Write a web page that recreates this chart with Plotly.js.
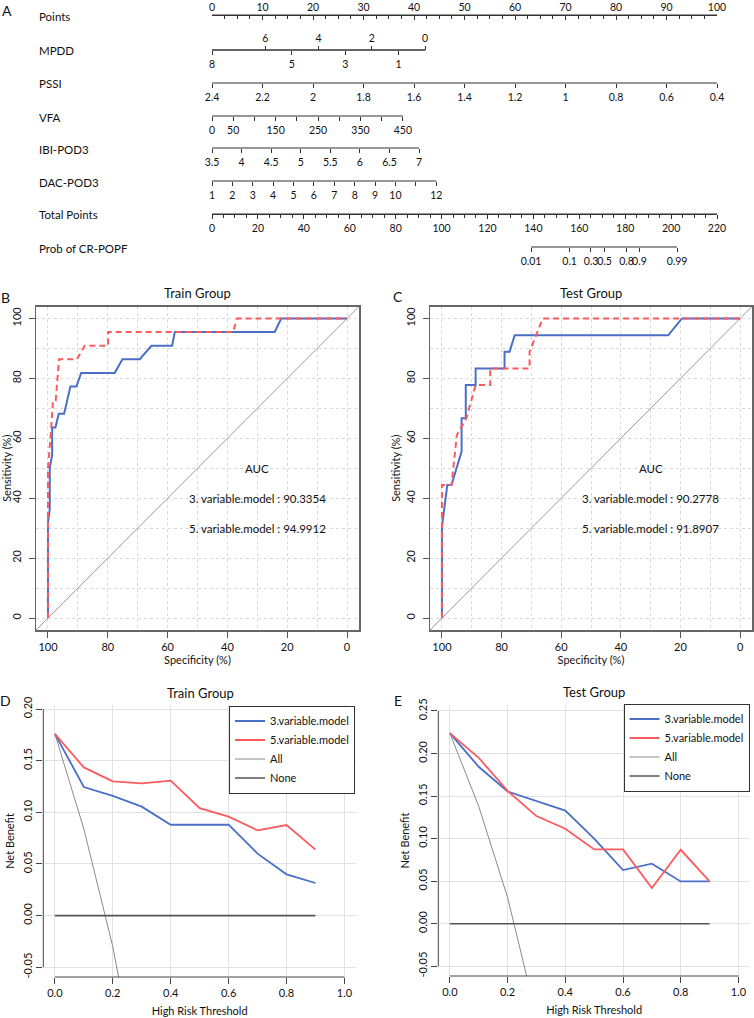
<!DOCTYPE html>
<html>
<head>
<meta charset="utf-8">
<script src="https://cdn.plot.ly/plotly-3.0.1.min.js"></script>
<style>html,body{margin:0;padding:0;background:#fff;}#chart{width:754px;height:1018px;}</style>
</head>
<body>
<div id="chart"></div>
<script>
// ---------------- DATA ----------------
// Nomogram (panel A)
const pointsTicks = [0,10,20,30,40,50,60,70,80,90,100];
const mpddTopTicks = [6,4,2,0];
const mpddBottomTicks = [8,5,3,1];
const mpddEnds = [8,0];
const mpddPoints = [0,42.2];
const pssiTicks = [2.4,2.2,2,1.8,1.6,1.4,1.2,1,0.8,0.6,0.4];
const pssiLabels = ['2.4','2.2','2','1.8','1.6','1.4','1.2','1','0.8','0.6','0.4'];
const pssiPoints = [0,100];
const vfaTicks = [0,50,100,150,200,250,300,350,400,450];
const vfaLabels = ['0','50','','150','','250','','350','','450'];
const vfaPoints = [0,37.8];
const ibiTicks = [3.5,4,4.5,5,5.5,6,6.5,7];
const ibiLabels = ['3.5','4','4.5','5','5.5','6','6.5','7'];
const ibiPoints = [0,41.0];
const dacTicks = [1,2,3,4,5,6,7,8,9,10,11,12];
const dacLabels = ['1','2','3','4','5','6','7','8','9','10','','12'];
const dacPoints = [0,44.4];
const totalTicks = [0,20,40,60,80,100,120,140,160,180,200,220];
const probLabels = ['0.01','0.1','0.3','0.5','0.8','0.9','0.99'];
const probTotalPoints = [139,155.8,165.1,171,180.6,186.2,202.6];
const rowNames = ['Points','MPDD','PSSI','VFA','IBI-POD3','DAC-POD3','Total Points','Prob of CR-POPF'];

// ROC (panels B, C)
const trainSpec3 = [100,100,99.4,99.4,98.6,98.6,97.5,96.4,94.6,92.5,90.5,88.9,77.7,75.1,69.3,65.4,58.5,57.6,24.2,22.0,0];
const trainSens3 = [0,31.8,36.4,50,54.5,63.6,63.6,68.2,68.2,77.3,77.3,81.8,81.8,86.4,86.4,90.9,90.9,95.5,95.5,100,100];
const trainSpec5 = [100,100,98.9,98.3,97.4,96.3,90.3,87.7,79.9,79.9,38.1,36.8,0];
const trainSens5 = [0,50,63.6,72.7,72.7,86.4,86.4,90.9,90.9,95.5,95.5,100,100];
const testSpec3 = [100,100,98.2,96.8,93.4,93.4,92.0,92.0,88.7,88.7,79.0,79.0,77.3,75.6,24.1,19.5,0];
const testSens3 = [0,30.4,44.4,44.4,55.6,66.7,66.7,77.8,77.8,83.3,83.3,88.9,88.9,94.4,94.4,100,100];
const testSpec5 = [100,100,96.8,95.0,91.8,88.7,83.8,83.8,70.6,70.6,66.2,0];
const testSens5 = [0,44.4,44.4,61.1,66.7,77.8,77.8,83.3,83.3,88.9,100,100];
const aucTrain = ['90.3354','94.9912'];
const aucTest = ['90.2778','91.8907'];
const modelNames = ['3.variable.model','5.variable.model','All','None'];

// DCA (panels D, E)
const thresholds = [0,0.1,0.2,0.3,0.4,0.5,0.6,0.7,0.8,0.9];
const trainNB3 = [0.176,0.1245,0.116,0.1055,0.088,0.088,0.088,0.060,0.040,0.0316];
const trainNB5 = [0.176,0.1435,0.130,0.128,0.1306,0.104,0.0958,0.0826,0.0877,0.0639];
const trainAllX = [0,0.1,0.2,0.3];
const trainAllNB = [0.176,0.084,-0.030,-0.177];
const testNB3 = [0.224,0.1844,0.1554,0.144,0.133,0.100,0.063,0.0705,0.0497,0.0497];
const testNB5 = [0.224,0.195,0.156,0.1265,0.1116,0.0873,0.0873,0.0419,0.0869,0.0497];
const testAllX = [0,0.1,0.2,0.3];
const testAllNB = [0.224,0.138,0.031,-0.109];
const noneNB = [0,0,0,0,0,0,0,0,0,0];
const dcaXTicks = [0,0.2,0.4,0.6,0.8,1.0];
const dcaXLabels = ['0.0','0.2','0.4','0.6','0.8','1.0'];
const trainYTicks = [-0.05,0,0.05,0.10,0.15,0.20];
const trainYLabels = ['-0.05','0.00','0.05','0.10','0.15','0.20'];
const testYTicks = [-0.05,0,0.05,0.10,0.15,0.20,0.25];
const testYLabels = ['-0.05','0.00','0.05','0.10','0.15','0.20','0.25'];

// ---------------- LAYOUT HELPERS ----------------
const W = 754, H = 1018;
const px = x => x / W;
const py = y => 1 - y / H;
const BLUE = '#4a6fc6', RED = '#fb5b5e';
const FONT = 'Lato, "Noto Sans", sans-serif';
const INK = '#111';

const rowY = [15, 50, 83, 116, 148, 181, 214, 247];
const nomDomain = [px(212), px(717)];

function rangeFor(ends, pts, pMax) {
  const s = (pts[1] - pts[0]) / (ends[1] - ends[0]);
  const v = p => ends[0] + (p - pts[0]) / s;
  return [v(0), v(pMax)];
}
function nomAxis(o) {
  return Object.assign({
    overlaying: 'x', anchor: 'free', showgrid: false, zeroline: false, showline: false,
    ticks: 'outside', ticklen: 4, tickwidth: 1, tickcolor: '#333', tickangle: 0,
    tickfont: {size: 10.5, color: INK, family: FONT}, tickmode: 'array', side: 'bottom'
  }, o);
}

const traces = [];
const lineStyle = {color: '#333', width: 1};
function rowLine(ax, xs, y) {
  traces.push({type: 'scatter', mode: 'lines', x: [xs[0], xs[xs.length - 1]], y: [y, y],
    xaxis: ax, yaxis: 'y', line: lineStyle, showlegend: false, hoverinfo: 'skip'});
}
rowLine('x2', mpddEnds, rowY[1]);
rowLine('x4', pssiTicks, rowY[2]);
rowLine('x5', vfaTicks, rowY[3]);
rowLine('x6', ibiTicks, rowY[4]);
rowLine('x7', dacTicks, rowY[5]);
rowLine('x9', probTotalPoints, rowY[7]);
rowLine('x3', mpddEnds, rowY[1]);
rowLine('x8', totalTicks, rowY[6]);
rowLine('x', pointsTicks, rowY[0]);

// ROC traces
const ROC_RANGE = [-4, 104];
function rocTraces(xa, ya, s3, n3, s5, n5) {
  traces.push({type:'scatter', mode:'lines', x:[ROC_RANGE[1], ROC_RANGE[0]], y:[ROC_RANGE[0], ROC_RANGE[1]], xaxis:xa, yaxis:ya, line:{color:'#9a9a9a', width:1}, showlegend:false, hoverinfo:'skip'});
  traces.push({type:'scatter', mode:'lines', x:s3, y:n3, xaxis:xa, yaxis:ya, line:{color:BLUE, width:2}, name:'3.variable.model', showlegend:false});
  traces.push({type:'scatter', mode:'lines', x:s5, y:n5, xaxis:xa, yaxis:ya, line:{color:RED, width:2, dash:'6px,4px'}, name:'5.variable.model', showlegend:false});
}
rocTraces('x10', 'y2', trainSpec3, trainSens3, trainSpec5, trainSens5);
rocTraces('x11', 'y3', testSpec3, testSens3, testSpec5, testSens5);

// DCA traces
function dcaTraces(xa, ya, lg, nb3, nb5, allX, allNB) {
  traces.push({type:'scatter', mode:'lines', x:thresholds, y:nb3, xaxis:xa, yaxis:ya, legend:lg, name:modelNames[0], line:{color:BLUE, width:1.8}});
  traces.push({type:'scatter', mode:'lines', x:thresholds, y:nb5, xaxis:xa, yaxis:ya, legend:lg, name:modelNames[1], line:{color:RED, width:1.8}});
  traces.push({type:'scatter', mode:'lines', x:allX, y:allNB, xaxis:xa, yaxis:ya, legend:lg, name:modelNames[2], line:{color:'#8a8a8a', width:1}});
  traces.push({type:'scatter', mode:'lines', x:thresholds, y:noneNB, xaxis:xa, yaxis:ya, legend:lg, name:modelNames[3], line:{color:'#555', width:1.6}});
}
dcaTraces('x12', 'y4', 'legend', trainNB3, trainNB5, trainAllX, trainAllNB);
dcaTraces('x13', 'y5', 'legend2', testNB3, testNB5, testAllX, testAllNB);

// ---------------- LAYOUT ----------------
const layout = {
  width: W, height: H,
  margin: {l: 0, r: 0, t: 0, b: 0},
  paper_bgcolor: '#fff', plot_bgcolor: 'rgba(0,0,0,0)',
  font: {family: FONT, size: 11, color: INK},
  showlegend: true,
  // nomogram base
  yaxis: {domain: [py(262), 1], range: [262, 0], visible: false, fixedrange: true},
  xaxis: {domain: nomDomain, range: [0, 100], anchor: 'free', position: py(rowY[0]), side: 'top',
    showgrid: false, zeroline: false, showline: true, linecolor: '#333', linewidth: 1,
    tickmode: 'linear', tick0: 0, dtick: 10, ticks: 'inside', ticklen: 4, tickcolor: '#333', tickangle: 0,
    tickfont: {size: 10.5, color: INK, family: FONT},
    minor: {tick0: 0, dtick: 2.5, ticks: 'inside', ticklen: 2.5, tickcolor: '#333', showgrid: false}},
  xaxis2: nomAxis({position: py(rowY[1]), side: 'top', range: rangeFor(mpddEnds, mpddPoints, 100), tickvals: mpddTopTicks, ticktext: mpddTopTicks.map(String)}),
  xaxis3: nomAxis({position: py(rowY[1]), range: rangeFor(mpddEnds, mpddPoints, 100), tickvals: mpddBottomTicks, ticktext: mpddBottomTicks.map(String)}),
  xaxis4: nomAxis({position: py(rowY[2]), range: rangeFor([pssiTicks[0], pssiTicks[pssiTicks.length-1]], pssiPoints, 100), tickvals: pssiTicks, ticktext: pssiLabels}),
  xaxis5: nomAxis({position: py(rowY[3]), range: rangeFor([vfaTicks[0], vfaTicks[vfaTicks.length-1]], vfaPoints, 100), tickvals: vfaTicks, ticktext: vfaLabels}),
  xaxis6: nomAxis({position: py(rowY[4]), range: rangeFor([ibiTicks[0], ibiTicks[ibiTicks.length-1]], ibiPoints, 100), tickvals: ibiTicks, ticktext: ibiLabels}),
  xaxis7: nomAxis({position: py(rowY[5]), range: rangeFor([dacTicks[0], dacTicks[dacTicks.length-1]], dacPoints, 100), tickvals: dacTicks, ticktext: dacLabels}),
  xaxis8: nomAxis({position: py(rowY[6]), range: [totalTicks[0], totalTicks[totalTicks.length-1]], tickvals: totalTicks, ticktext: totalTicks.map(String),
    showline: true, linecolor: '#333', linewidth: 1,
    minor: {tickmode: 'linear', tick0: 0, dtick: 5, ticks: 'outside', ticklen: 2.5, tickcolor: '#333', showgrid: false}}),
  xaxis9: nomAxis({position: py(rowY[7]), range: [totalTicks[0], totalTicks[totalTicks.length-1]], tickvals: probTotalPoints, ticktext: probLabels}),
  legend: {x: px(355), xanchor: 'right', y: py(705.5), yanchor: 'top', bgcolor: '#fff', bordercolor: '#333', borderwidth: 1,
    font: {size: 11, family: FONT, color: INK}, itemwidth: 30, tracegroupgap: 0},
  legend2: {x: px(749.5), xanchor: 'right', y: py(703.5), yanchor: 'top', bgcolor: '#fff', bordercolor: '#333', borderwidth: 1,
    font: {size: 11, family: FONT, color: INK}, itemwidth: 30, tracegroupgap: 0},
  annotations: [],
  shapes: []
};

function rocAxes(xname, yname, xid, yid, xDom) {
  const common = {tickmode: 'linear', tick0: 0, dtick: 20, ticks: 'outside', ticklen: 6, tickcolor: '#555',
    showline: true, mirror: true, linecolor: '#666', linewidth: 1.5, zeroline: false,
    showgrid: true, gridcolor: '#d9d9d9', griddash: 'dot', gridwidth: 1,
    minor: {tick0: 0, dtick: 10, showgrid: true, gridcolor: '#d9d9d9', griddash: 'dot', gridwidth: 1, ticks: ''},
    tickfont: {size: 11, family: FONT, color: INK}, fixedrange: true};
  layout[xname] = Object.assign({}, common, {domain: xDom, anchor: yid, range: [ROC_RANGE[1], ROC_RANGE[0]], tickangle: 0,
    title: {text: 'Specificity (%)', font: {size: 11, family: FONT, color: INK}, standoff: 4}});
  layout[yname] = Object.assign({}, common, {domain: [py(630), py(306.5)], anchor: xid, range: ROC_RANGE, tickangle: -90,
    ticklabelstandoff: 3,
    title: {text: 'Sensitivity (%)', font: {size: 11, family: FONT, color: INK}, standoff: 1}});
}
rocAxes('xaxis10', 'yaxis2', 'x10', 'y2', [px(36), px(359)]);
rocAxes('xaxis11', 'yaxis3', 'x11', 'y3', [px(430), px(752)]);

function dcaAxes(xname, yname, xid, yid, xDom, yDomPx, yRange, yT, yL) {
  layout[xname] = {domain: xDom, anchor: yid, range: [-0.04, 1.04], tickmode: 'array', tickvals: dcaXTicks, ticktext: dcaXLabels,
    ticks: 'outside', ticklen: 6, tickcolor: '#444', showline: false, zeroline: false, showgrid: true, gridcolor: '#e2e2e2', gridwidth: 1,
    tickangle: 0, tickfont: {size: 11, family: FONT, color: INK}, fixedrange: true,
    title: {text: 'High Risk Threshold', font: {size: 11, family: FONT, color: INK}, standoff: 9}};
  layout[yname] = {domain: [py(yDomPx[1]), py(yDomPx[0])], anchor: xid, range: yRange, tickmode: 'array', tickvals: yT, ticktext: yL,
    ticks: 'outside', ticklen: 6, tickcolor: '#444', showline: false, zeroline: false, showgrid: true, gridcolor: '#e2e2e2', gridwidth: 1,
    tickangle: -90, tickfont: {size: 11, family: FONT, color: INK}, fixedrange: true,
    title: {text: 'Net Benefit', font: {size: 11, family: FONT, color: INK}, standoff: 4}};
  layout.shapes.push({type: 'line', xref: xid, yref: yid + ' domain', x0: dcaXTicks[0], x1: dcaXTicks[dcaXTicks.length-1], y0: 0, y1: 0, line: {color: '#444', width: 1}});
  layout.shapes.push({type: 'line', xref: xid + ' domain', yref: yid, x0: 0, x1: 0, y0: yT[0], y1: yT[yT.length-1], line: {color: '#444', width: 1}});
}
dcaAxes('xaxis12', 'yaxis4', 'x12', 'y4', [px(43.3), px(356)], [705, 977], [-0.0594, 0.2039], trainYTicks, trainYLabels);
dcaAxes('xaxis13', 'yaxis5', 'x13', 'y5', [px(438.3), px(750)], [705, 976], [-0.0614, 0.257], testYTicks, testYLabels);

// annotations
function ann(text, x, y, o) {
  layout.annotations.push(Object.assign({text: text, x: px(x), y: py(y), xref: 'paper', yref: 'paper', showarrow: false,
    xanchor: 'center', yanchor: 'middle', font: {size: 11, family: FONT, color: INK}}, o || {}));
}
// nomogram row names
rowNames.forEach((n, i) => ann(n, 37, rowY[i] + 1, {xanchor: 'left', font: {size: 11.5, family: FONT, color: INK}}));
// panel letters
ann('A', 7, 11, {font: {size: 14, family: FONT, color: INK}});
ann('B', 5, 297, {font: {size: 14, family: FONT, color: INK}});
ann('C', 398, 296, {font: {size: 14, family: FONT, color: INK}});
ann('D', 5, 700, {font: {size: 14, family: FONT, color: INK}});
ann('E', 398, 700, {font: {size: 14, family: FONT, color: INK}});
// panel titles
ann('Train Group', 197.5, 292.5, {font: {size: 13, family: FONT, color: INK}});
ann('Test Group', 591, 292.5, {font: {size: 13, family: FONT, color: INK}});
ann('Train Group', 200, 693, {font: {size: 13, family: FONT, color: INK}});
ann('Test Group', 594, 691.5, {font: {size: 13, family: FONT, color: INK}});
// AUC text
function aucText(xref, yref, vals) {
  const f = {size: 11.5, family: FONT, color: INK};
  layout.annotations.push({text: 'AUC', x: 30, y: 50, xref: xref, yref: yref, showarrow: false, font: f});
  layout.annotations.push({text: '3. variable.model : ' + vals[0], x: 30, y: 40, xref: xref, yref: yref, showarrow: false, font: f});
  layout.annotations.push({text: '5. variable.model : ' + vals[1], x: 30, y: 30, xref: xref, yref: yref, showarrow: false, font: f});
}
aucText('x10', 'y2', aucTrain);
aucText('x11', 'y3', aucTest);

Plotly.newPlot('chart', traces, layout, {displayModeBar: false, staticPlot: true});
</script>
</body>
</html>
